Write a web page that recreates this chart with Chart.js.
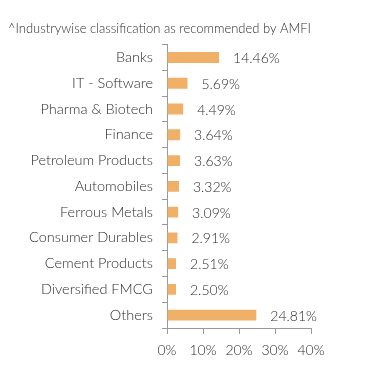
<!DOCTYPE html>
<html>
<head>
<meta charset="utf-8">
<script src="https://cdn.jsdelivr.net/npm/chart.js@4.4.1/dist/chart.umd.min.js"></script>
<style>
  html, body { margin: 0; padding: 0; background: #fff; }
  #wrap { width: 391px; height: 382px; position: relative; }
</style>
</head>
<body>
<div id="wrap"><canvas id="c" width="391" height="382"></canvas></div>
<script>
const categories = ["Banks", "IT - Software", "Pharma & Biotech", "Finance", "Petroleum Products", "Automobiles", "Ferrous Metals", "Consumer Durables", "Cement Products", "Diversified FMCG", "Others"];
const values = [14.46, 5.69, 4.49, 3.64, 3.63, 3.32, 3.09, 2.91, 2.51, 2.50, 24.81];
const xTicks = [0, 10, 20, 30, 40];
const titleText = "^Industrywise classification as recommended by AMFI";

const FONT = "Lato, 'Open Sans', sans-serif";
const TEXT = "#2e2e2e";

const valueLabels = {
  id: 'valueLabels',
  afterDatasetsDraw(chart) {
    const ctx = chart.ctx;
    const meta = chart.getDatasetMeta(0);
    ctx.save();
    ctx.font = "300 14px " + FONT;
    ctx.fillStyle = TEXT;
    ctx.textBaseline = 'middle';
    ctx.textAlign = 'left';
    meta.data.forEach((bar, i) => {
      ctx.fillText(values[i].toFixed(2) + '%', bar.x + 14, bar.y + 1);
    });
    ctx.restore();
  }
};

new Chart(document.getElementById('c'), {
  type: 'bar',
  data: {
    labels: categories,
    datasets: [{
      data: values,
      backgroundColor: '#F0B068',
      borderWidth: 0,
      barPercentage: 0.42,
      categoryPercentage: 1.0
    }]
  },
  options: {
    indexAxis: 'y',
    responsive: false,
    animation: false,
    layout: { padding: { left: 8, right: 80, top: 0, bottom: 20 } },
    plugins: {
      legend: { display: false },
      tooltip: { enabled: false },
      title: {
        display: true,
        text: titleText,
        align: 'start',
        color: TEXT,
        font: { family: FONT, size: 13, weight: '300' },
        padding: { top: 21, bottom: 8 }
      }
    },
    scales: {
      y: {
        afterFit(scale) { scale.width = 159; },
        grid: { display: true, drawOnChartArea: false, drawTicks: true, tickLength: 5, color: '#999999', offset: true },
        border: { display: true, color: '#999999', width: 1 },
        ticks: { color: TEXT, font: { family: FONT, size: 14.5, weight: '300' }, padding: 9 }
      },
      x: {
        min: 0, max: 40,
        afterBuildTicks(scale) { scale.ticks = xTicks.map(v => ({ value: v })); },
        afterFit(scale) { scale.height = 34; },
        grid: { display: true, drawOnChartArea: false, drawTicks: true, tickLength: 6, color: '#999999' },
        border: { display: true, color: '#999999', width: 1 },
        ticks: { color: TEXT, font: { family: FONT, size: 14, weight: '300' }, padding: 8, maxRotation: 0,
          callback: (v) => v + '%' }
      }
    }
  },
  plugins: [valueLabels]
});
</script>
</body>
</html>
